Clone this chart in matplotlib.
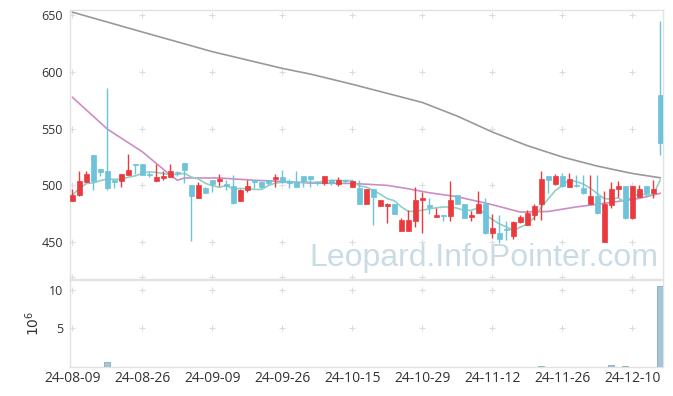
import numpy as np
import pandas as pd
import matplotlib
matplotlib.use("Agg")
import matplotlib.pyplot as plt
from matplotlib.patches import Rectangle
import matplotlib.transforms as mtransforms

dates = ["24-08-09", "24-08-12", "24-08-13", "24-08-14", "24-08-16", "24-08-19", "24-08-20",
         "24-08-21", "24-08-22", "24-08-23", "24-08-26", "24-08-27", "24-08-28", "24-08-29",
         "24-08-30", "24-09-02", "24-09-03", "24-09-04", "24-09-05", "24-09-06", "24-09-09",
         "24-09-10", "24-09-11", "24-09-12", "24-09-13", "24-09-19", "24-09-20", "24-09-23",
         "24-09-24", "24-09-25", "24-09-26", "24-09-27", "24-09-30", "24-10-02", "24-10-04",
         "24-10-07", "24-10-08", "24-10-10", "24-10-11", "24-10-14", "24-10-15", "24-10-16",
         "24-10-17", "24-10-18", "24-10-21", "24-10-22", "24-10-23", "24-10-24", "24-10-25",
         "24-10-28", "24-10-29", "24-10-30", "24-10-31", "24-11-01", "24-11-04", "24-11-05",
         "24-11-06", "24-11-07", "24-11-08", "24-11-11", "24-11-12", "24-11-13", "24-11-14",
         "24-11-15", "24-11-18", "24-11-19", "24-11-20", "24-11-21", "24-11-22", "24-11-25",
         "24-11-26", "24-11-27", "24-11-28", "24-11-29", "24-12-02", "24-12-03", "24-12-04",
         "24-12-05", "24-12-06", "24-12-09", "24-12-10", "24-12-11", "24-12-12", "24-12-13",
         "24-12-16"]

opens = [486.4, 491.5, 503, 527, 514, 513, 505, 504, 509, 518.5,
         519, 510, 504, 506.5, 507.5, 512, 519.5, 500, 489, 498,
         504.5, 504, 501, 499.5, 486.5, 496, 504.5, 503, 504.5, 505.5,
         507, 504, 503, 508, 508, 503, 502, 505, 501, 505,
         499, 497.5, 484, 496.5, 482, 482, 483.5, 460, 460, 469,
         487, 482.5, 472.5, 474, 473, 491.5, 484, 472.5, 476, 484,
         457.7, 458, 462, 455, 468, 465.5, 474, 484, 508, 501,
         508, 499, 500, 497.5, 484, 490.5, 450.3, 482.5, 496.4, 499.3,
         471, 490, 499.3, 493.5, 580]
highs = [496.4, 513, 513, 527, 514, 586, 505, 510, 528, 519,
         519, 512, 519, 513, 518.5, 512.5, 519.5, 500, 503, 499,
         505, 510, 505, 509.5, 497, 505, 505, 503.5, 505, 510,
         513.5, 506, 512.5, 508, 508.5, 504, 508.5, 505.5, 507, 505.5,
         504, 504.5, 497, 497, 487.5, 484.5, 484, 471.5, 478, 499,
         494, 489, 480, 474, 504, 491.5, 484, 477, 495, 488.5,
         474.7, 474, 469, 469, 474, 478, 484, 513, 508.5, 510,
         510.5, 510.5, 509.5, 509.5, 509.5, 509.5, 495, 503, 503.7, 499.5,
         499.5, 500, 499.5, 504.5, 645]
lows = [486, 490.5, 503, 496, 508, 496, 498, 499, 509, 510,
        509, 507, 504, 505, 507.5, 508, 502, 451, 489, 493,
        494, 499.5, 496, 484, 486, 494.5, 498, 498, 500, 499,
        502, 498, 498.5, 499, 499, 500, 500, 500, 499.5, 502,
        498.5, 484, 484, 465, 482, 467, 475, 460, 460, 463.5,
        458.5, 475, 472, 469, 469, 484, 471, 469, 476, 457.5,
        454, 449, 452, 453, 467, 465, 469.5, 469.5, 493, 500.5,
        499, 498.5, 499, 492, 484, 475, 450, 480.5, 490, 470.8,
        470.8, 490, 490, 488.5, 527]
closes = [491.4, 503.5, 510, 504, 512, 498, 503, 509.6, 513.4, 518,
          509, 509.5, 507, 508.5, 512.6, 511, 513.5, 491, 500, 493.5,
          501, 505.5, 499.5, 484.5, 496, 499.3, 503, 499, 501.7, 507,
          503, 502, 499, 504, 506, 502, 508, 501.7, 504.5, 504,
          503.5, 484, 496.5, 490, 487, 484, 475, 469.5, 469.5, 487.5,
          489.3, 481, 474, 473, 487.5, 484, 471.5, 474, 484, 457.7,
          462.5, 452.5, 461, 468, 471.8, 476, 482, 506, 504.5, 508,
          499.5, 505.5, 499.3, 493.5, 490.5, 475.3, 483.5, 496.5, 499.3, 471,
          499.3, 496.4, 493.5, 496.5, 537.5]

# volume in millions of shares (bars not visible in the reference are near zero)
volume = [0.03, 0.03, 0.03, 0.03, 0.03, 0.68, 0.03, 0.03, 0.03, 0.03,
          0.03, 0.03, 0.03, 0.03, 0.03, 0.03, 0.03, 0.03, 0.03, 0.03,
          0.03, 0.03, 0.03, 0.03, 0.03, 0.03, 0.03, 0.03, 0.03, 0.03,
          0.03, 0.03, 0.03, 0.03, 0.03, 0.03, 0.03, 0.03, 0.03, 0.03,
          0.03, 0.03, 0.03, 0.03, 0.03, 0.03, 0.03, 0.03, 0.03, 0.03,
          0.03, 0.03, 0.03, 0.03, 0.03, 0.03, 0.03, 0.03, 0.03, 0.03,
          0.03, 0.03, 0.03, 0.03, 0.03, 0.03, 0.03, 0.13, 0.03, 0.03,
          0.03, 0.03, 0.03, 0.03, 0.03, 0.03, 0.03, 0.30, 0.03, 0.17,
          0.03, 0.03, 0.03, 0.03, 10.43]

# long moving averages (depend on history before the window)
ma_long_idx = [0, 10, 20, 30, 34, 40, 50, 55, 60, 65, 70, 75, 80, 84]
ma_long_val = [652.5, 635, 617.7, 603, 598, 589, 573, 561, 547, 535, 525, 517, 510.5, 506.7]
ma20_idx = [0, 5, 10, 14, 15, 16, 21, 26, 30, 34, 40, 45, 48, 51, 55, 60, 64, 68, 72, 77, 81, 84]
ma20_val = [577.5, 549.5, 529.5, 509, 504.5, 506.5, 506.5, 504.5, 503.5, 502, 501.7, 500,
            497, 493.5, 490, 483, 476.5, 477, 481, 485, 488.5, 493]

xtick_idx = [0, 10, 20, 30, 40, 50, 60, 70, 80]
price_ticks = [450, 500, 550, 600, 650]
vol_ticks = [5, 10]

UP = "#ea3a3e"
DOWN = "#6cc3da"
FRAME = "#e2e2e2"
CROSS = "#dcdcdc"
TXT = "#333333"

plt.rcParams["font.family"] = ["Open Sans", "DejaVu Sans"]

fig = plt.figure(figsize=(6.73, 3.96), dpi=100)
W, H = 673.0, 396.0
ax = fig.add_axes([70 / W, 1 - 278.5 / H, (663.3 - 70) / W, (278.5 - 10) / H])
axv = fig.add_axes([70 / W, 1 - 367.3 / H, (663.3 - 70) / W, (367.3 - 279.5) / H], sharex=ax)

n = len(closes)
x = np.arange(n)
o = np.array(opens); h = np.array(highs); l = np.array(lows); c = np.array(closes)

# watermark
ax.text(0.698, 0.045, "Leopard.InfoPointer.com", transform=ax.transAxes,
        ha="center", va="baseline", fontsize=23, color="#c9dce6",
        family=["Liberation Sans", "DejaVu Sans"], zorder=0)

# grid crosses
for yy in price_ticks:
    ax.plot(xtick_idx, [yy] * len(xtick_idx), linestyle="none", marker="+",
            markersize=4.5, markeredgewidth=0.8, color=CROSS, zorder=1)
blend = mtransforms.blended_transform_factory(ax.transData, ax.transAxes)
ax.plot(xtick_idx, [0.006] * len(xtick_idx), linestyle="none", marker="+", markersize=4.5,
        markeredgewidth=0.8, color=CROSS, transform=blend, zorder=1, clip_on=False)
for yy in vol_ticks:
    axv.plot(xtick_idx, [yy] * len(xtick_idx), linestyle="none", marker="+",
             markersize=4.5, markeredgewidth=0.8, color=CROSS, zorder=1)

# moving averages
ax.plot(ma_long_idx, ma_long_val, color="#999999", lw=1.2, zorder=2)
ax.plot(ma20_idx, ma20_val, color="#cc8cc8", lw=1.2, zorder=2)
ma5 = pd.Series(c).rolling(5, min_periods=1).mean()
ax.plot(x, ma5, color="#8fd0c2", lw=1.2, zorder=2)

# candles
bw = 0.7
for i in range(n):
    col = UP if c[i] >= o[i] else DOWN
    ax.vlines(x[i], l[i], h[i], color=col, lw=1.0, zorder=3)
    bot = min(o[i], c[i]); ht = max(abs(c[i] - o[i]), 0.8)
    ax.add_patch(Rectangle((x[i] - bw / 2, bot), bw, ht, facecolor=col, edgecolor=col,
                           lw=0.5, zorder=4))

# volume
axv.bar(x, volume, width=0.85, color="#a4c6d6", edgecolor="#82acc0", lw=0.6, zorder=3)

ax.set_xlim(-0.35, 84.45)
ax.set_ylim(418, 654.4)
axv.set_ylim(0, 11.3)

for a in (ax, axv):
    for s in a.spines.values():
        s.set_color(FRAME)
        s.set_linewidth(1.0)
    a.tick_params(length=0, colors=TXT)

ax.set_yticks(price_ticks)
ax.set_yticklabels([str(v) for v in price_ticks], fontsize=9, color=TXT)
ax.tick_params(axis="y", pad=5)
ax.tick_params(axis="x", labelbottom=False)

axv.set_yticks(vol_ticks)
axv.set_yticklabels([str(v) for v in vol_ticks], fontsize=9, color=TXT)
axv.tick_params(axis="y", pad=5)
axv.set_xticks(xtick_idx)
axv.set_xticklabels([dates[i] for i in xtick_idx], fontsize=10, color=TXT)
axv.tick_params(axis="x", pad=3)
axv.set_ylabel(r"$10^6$", fontsize=10, color=TXT, labelpad=4)

fig.savefig("out.png", dpi=100)
